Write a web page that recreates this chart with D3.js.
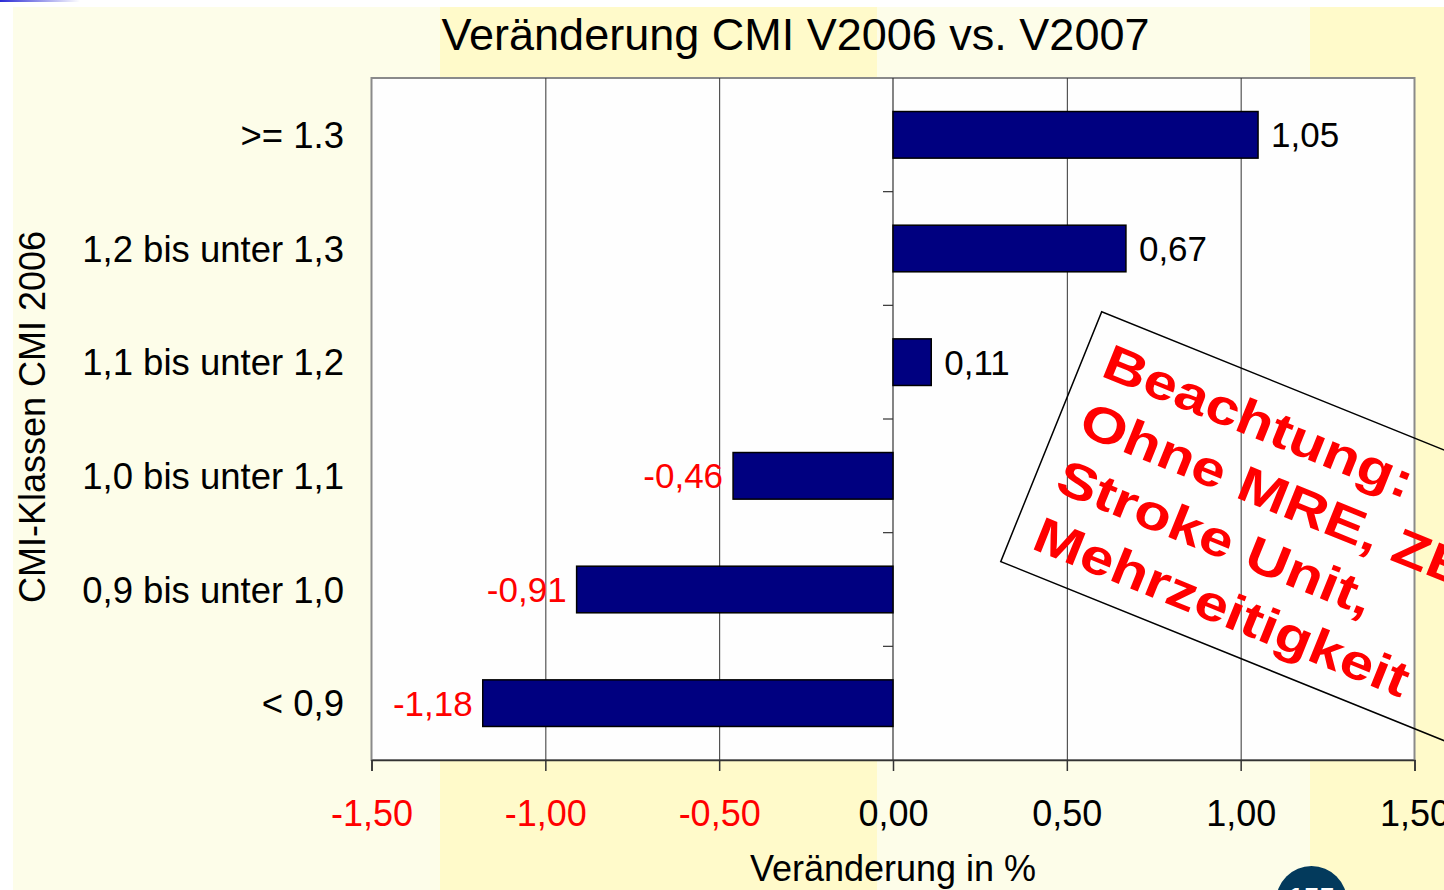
<!DOCTYPE html>
<html>
<head>
<meta charset="utf-8">
<script src="https://cdn.jsdelivr.net/npm/d3@7"></script>
<style>
  body { margin: 0; background: #fff; overflow: hidden; }
  svg { display: block; font-family: "Liberation Sans", Arial, sans-serif; }
</style>
</head>
<body>
<div id="chart"></div>
<script>
// CMI classes, top to bottom as drawn
var categories = [">= 1.3", "1,2 bis unter 1,3", "1,1 bis unter 1,2",
                  "1,0 bis unter 1,1", "0,9 bis unter 1,0", "< 0,9"];
var changes = [1.05, 0.67, 0.11, -0.46, -0.91, -1.18];
var xTicks = [-1.5, -1.0, -0.5, 0, 0.5, 1.0, 1.5];
var noteLines = ["Beachtung:", "Ohne MRE, ZE", "Stroke Unit,", "Mehrzeitigkeit"];

var W = 1444, H = 890;
var plot = {left: 371.5, right: 1414.5, top: 78, bottom: 760};

// german decimals, plain hyphen as minus
var de = d3.formatLocale({decimal: ",", thousands: ".", grouping: [3], currency: ["", " €"], minus: "-"});
var fmt = de.format(".2f");

var svg = d3.select("#chart").append("svg").attr("width", W).attr("height", H);

// slide background
var defs = svg.append("defs");
var grad = defs.append("linearGradient").attr("id", "topline");
grad.append("stop").attr("offset", "0%").attr("stop-color", "#2b2bd6");
grad.append("stop").attr("offset", "100%").attr("stop-color", "#ffffff");

svg.append("rect").attr("x", 13).attr("y", 7).attr("width", W - 13).attr("height", H - 7)
  .attr("fill", "#fdfde9");
[[440, 877], [1310, W]].forEach(function(b) {
  svg.append("rect").attr("x", b[0]).attr("y", 7).attr("width", b[1] - b[0]).attr("height", H - 7)
    .attr("fill", "#fffaca");
});
svg.append("rect").attr("x", 0).attr("y", 0).attr("width", 80).attr("height", 2)
  .attr("fill", "url(#topline)");

// scales
var x = d3.scaleLinear().domain([-1.5, 1.5]).range([plot.left, plot.right]);
var y = d3.scaleBand().domain(categories).range([plot.top, plot.bottom])
  .paddingInner(0.59).paddingOuter(0.295);

// plot area
svg.append("rect")
  .attr("x", plot.left).attr("y", plot.top)
  .attr("width", plot.right - plot.left).attr("height", plot.bottom - plot.top)
  .attr("fill", "#fefefe").attr("stroke", "#8a8a8a").attr("stroke-width", 2);

// gridlines
var grid = svg.append("g")
  .attr("transform", "translate(0," + plot.bottom + ")")
  .call(d3.axisBottom(x).tickValues([-1.0, -0.5, 0.5, 1.0])
    .tickSize(-(plot.bottom - plot.top)).tickFormat(""));
grid.select(".domain").remove();
grid.selectAll("line").attr("stroke", "#333").attr("stroke-width", 1);

// bottom axis
var xAxis = svg.append("g")
  .attr("transform", "translate(0," + plot.bottom + ")")
  .call(d3.axisBottom(x).tickValues(xTicks).tickSize(11).tickPadding(29.5)
    .tickFormat(function(d) { return fmt(d); }));
xAxis.select(".domain").attr("stroke", "#333").attr("stroke-width", 1.5);
xAxis.selectAll("line").attr("stroke", "#333").attr("stroke-width", 1.5);
xAxis.selectAll("text")
  .attr("font-size", 36)
  .attr("font-family", "'Liberation Sans', Arial, sans-serif")
  .attr("fill", function(d) { return d < 0 ? "#ff0000" : "#000"; });

// zero axis with ticks between categories
var zero = svg.append("g");
zero.append("line")
  .attr("x1", x(0)).attr("x2", x(0))
  .attr("y1", plot.top).attr("y2", plot.bottom)
  .attr("stroke", "#333").attr("stroke-width", 1.2);
zero.selectAll(".sep")
  .data(categories.slice(1))
  .enter().append("line")
  .attr("x1", x(0) - 10).attr("x2", x(0))
  .attr("y1", function(d) { return y(d) - y.step() * y.paddingInner() / 2; })
  .attr("y2", function(d) { return y(d) - y.step() * y.paddingInner() / 2; })
  .attr("stroke", "#333").attr("stroke-width", 1.2);

// bars
svg.selectAll(".bar")
  .data(changes)
  .enter().append("rect")
  .attr("x", function(d) { return x(Math.min(0, d)); })
  .attr("y", function(d, i) { return y(categories[i]); })
  .attr("width", function(d) { return Math.abs(x(d) - x(0)); })
  .attr("height", y.bandwidth())
  .attr("fill", "#000080")
  .attr("stroke", "#000")
  .attr("stroke-width", 1.5);

// value labels
svg.selectAll(".val")
  .data(changes)
  .enter().append("text")
  .attr("x", function(d) { return d < 0 ? x(d) - 10 : x(d) + 13; })
  .attr("y", function(d, i) { return y(categories[i]) + y.bandwidth() / 2; })
  .attr("dy", "0.36em")
  .attr("text-anchor", function(d) { return d < 0 ? "end" : "start"; })
  .attr("font-size", 35)
  .attr("fill", function(d) { return d < 0 ? "#ff0000" : "#000"; })
  .text(function(d) { return fmt(d); });

// category labels
svg.selectAll(".cat")
  .data(categories)
  .enter().append("text")
  .attr("x", 344)
  .attr("y", function(d) { return y(d) + y.bandwidth() / 2; })
  .attr("dy", "0.36em")
  .attr("text-anchor", "end")
  .attr("font-size", 36.5)
  .attr("fill", "#000")
  .text(function(d) { return d; });

// titles
svg.append("text")
  .attr("x", 795.5).attr("y", 50)
  .attr("text-anchor", "middle")
  .attr("font-size", 45)
  .text("Veränderung CMI V2006 vs. V2007");

svg.append("text")
  .attr("x", 893).attr("y", 881)
  .attr("text-anchor", "middle")
  .attr("font-size", 36)
  .text("Veränderung in %");

svg.append("text")
  .attr("transform", "translate(45,417) rotate(-90)")
  .attr("text-anchor", "middle")
  .attr("font-size", 36)
  .text("CMI-Klassen CMI 2006");

// tilted note
var note = svg.append("g").attr("transform", "translate(1101.7,311.7) rotate(22)");
note.append("rect")
  .attr("x", 0).attr("y", 0).attr("width", 600).attr("height", 269.5)
  .attr("fill", "none").attr("stroke", "#000").attr("stroke-width", 1.5);
note.selectAll("text")
  .data(noteLines)
  .enter().append("text")
  .attr("transform", function(d, i) { return "translate(22," + (60 + i * 62) + ") scale(1.2,1)"; })
  .attr("font-size", 50)
  .attr("font-weight", "bold")
  .attr("fill", "#ff0000")
  .text(function(d) { return d; });

// page number badge
svg.append("circle").attr("cx", 1311.5).attr("cy", 901.5).attr("r", 35.5).attr("fill", "#033a5c");
svg.append("text")
  .attr("x", 1311.5).attr("y", 907)
  .attr("text-anchor", "middle")
  .attr("font-size", 28).attr("font-weight", "bold")
  .attr("fill", "#fff")
  .text("155");
</script>
</body>
</html>
